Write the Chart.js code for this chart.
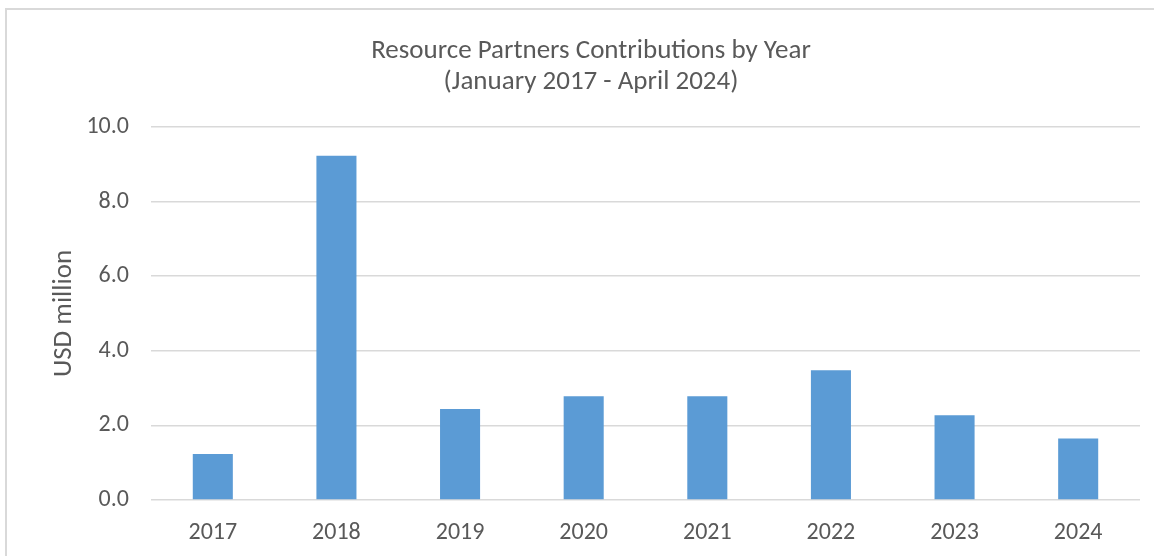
<!DOCTYPE html>
<html>
<head>
<meta charset="utf-8">
<script src="https://cdn.jsdelivr.net/npm/chart.js@4.4.1/dist/chart.umd.min.js"></script>
<style>
  html, body { margin: 0; padding: 0; background: #fff; overflow: hidden; }
  #wrap {
    position: absolute; left: 5px; top: 8px;
    width: 1147px; height: 546px;
    border-left: 2px solid #d9d9d9; border-top: 2px solid #d9d9d9;
  }
  #chart { display: block; }
</style>
</head>
<body>
<div id="wrap"><canvas id="chart" width="1147" height="546"></canvas></div>
<script>
const years = ['2017', '2018', '2019', '2020', '2021', '2022', '2023', '2024'];
const contributions = [1.23, 9.23, 2.44, 2.78, 2.78, 3.48, 2.27, 1.65];
const titleLines = ['Resource Partners Contributions by Year', '(January 2017 - April 2024)'];

const fontFamily = "Carlito, 'Liberation Sans Narrow', 'Open Sans', sans-serif";
const textColor = '#595959';

const ctx = document.getElementById('chart').getContext('2d');
new Chart(ctx, {
    type: 'bar',
    data: {
        labels: years,
        datasets: [{
            label: 'USD million',
            data: contributions,
            backgroundColor: '#5b9bd5',
            borderWidth: 0,
            barPercentage: 1,
            categoryPercentage: 0.324
        }]
    },
    options: {
        responsive: false,
        animation: false,
        // left padding shifts the centred title to where the original sits
        layout: { padding: { left: 35, right: 14, top: 0, bottom: 0 } },
        plugins: {
            legend: { display: false },
            tooltip: { enabled: false },
            title: {
                display: true,
                text: titleLines,
                color: textColor,
                font: { family: fontFamily, size: 27, weight: 'normal', lineHeight: 31 / 27 },
                padding: { top: 26, bottom: 29 }
            }
        },
        scales: {
            x: {
                grid: { display: false },
                border: { display: false },
                ticks: {
                    color: textColor,
                    font: { family: fontFamily, size: 24 },
                    padding: 11,
                    maxRotation: 0
                },
                afterFit: (scale) => { scale.height = 56; }
            },
            y: {
                min: 0,
                max: 10,
                border: { display: false },
                grid: { color: '#d9d9d9', lineWidth: 1.5, drawTicks: false },
                ticks: {
                    stepSize: 2,
                    color: textColor,
                    font: { family: fontFamily, size: 24 },
                    padding: 22,
                    callback: (v) => v.toFixed(1)
                },
                title: {
                    display: true,
                    text: 'USD million',
                    color: textColor,
                    font: { family: fontFamily, size: 27, lineHeight: 1.2 },
                    padding: { top: 6, bottom: 0 }
                },
                afterFit: (scale) => { scale.width = 109; }
            }
        }
    }
});
</script>
</body>
</html>
